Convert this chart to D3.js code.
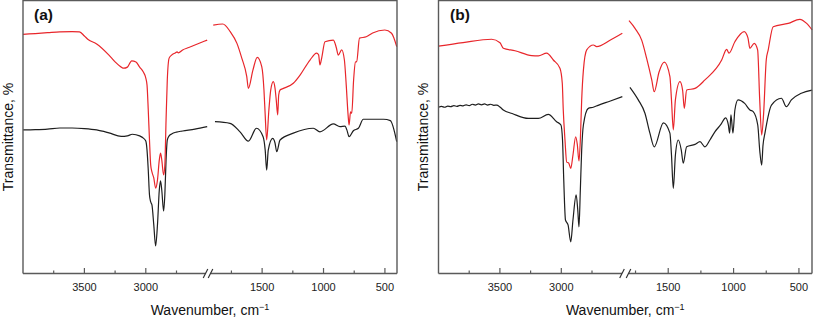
<!DOCTYPE html>
<html><head><meta charset="utf-8">
<script src="https://cdn.jsdelivr.net/npm/d3@7"></script>
<style>body{margin:0;background:#fff}svg{display:block}text{font-family:"Liberation Sans",Arial,sans-serif}</style>
</head><body>
<svg id="chart" width="814" height="319"></svg>
<script>
// ---------- DATA (wavenumber cm-1, transmittance a.u. %) ----------
const panelLabels = ["(a)", "(b)"];
const xTitle = "Wavenumber, cm";
const yTitle = "Transmittance, %";
const majorTicksHigh = [3500, 3000];
const minorTicksHigh = [3750, 3250, 2750];
const majorTicksLow = [1500, 1000, 500];
const minorTicksLow = [1750, 1250, 750];

// Panel (a)
const aRedHigh = [[4000,87.6],[3900,87.9],[3800,88.2],[3700,88.5],[3600,88.6],[3540,88.5],[3500,87.0],[3470,85.7],[3400,84.1],[3300,80.0],[3250,77.5],[3200,75.6],[3180,75.2],[3150,75.6],[3115,77.9],[3080,77.5],[3050,75.6],[3020,73.8],[3000,71.6],[2990,69.0],[2980,59.9],[2970,48.9],[2960,39.7],[2950,37.2],[2935,35.0],[2920,31.3],[2905,34.2],[2890,41.6],[2880,44.1],[2870,41.6],[2855,36.1],[2845,39.7],[2835,56.2],[2825,70.9],[2810,78.9],[2790,80.0],[2760,80.8],[2745,81.2],[2735,80.8],[2700,81.9],[2650,82.8],[2600,83.7],[2550,84.6],[2500,85.5]];
const aBlackHigh = [[4000,52.6],[3900,52.7],[3800,52.9],[3700,53.3],[3600,53.3],[3500,53.1],[3400,52.6],[3300,51.5],[3200,50.2],[3150,50.4],[3110,51.0],[3050,50.4],[3020,49.6],[3000,48.5],[2990,45.2],[2980,37.9],[2970,28.8],[2960,26.2],[2950,25.1],[2935,17.8],[2920,10.1],[2905,17.8],[2890,30.6],[2880,33.9],[2870,30.6],[2855,22.9],[2845,28.8],[2835,41.6],[2825,48.9],[2810,50.4],[2790,51.1],[2750,51.8],[2700,52.2],[2600,52.9],[2500,53.8]];
const aRedLow = [[1898,91.0],[1820,91.4],[1760,88.6],[1705,84.3],[1665,78.8],[1625,72.1],[1612,67.8],[1575,74.5],[1540,79.2],[1503,75.8],[1485,67.2],[1475,58.1],[1463,48.9],[1445,59.9],[1430,67.2],[1409,70.3],[1395,67.9],[1385,63.6],[1373,58.1],[1365,65.4],[1354,67.2],[1327,67.8],[1246,69.7],[1191,72.7],[1110,78.2],[1056,80.7],[1040,80.1],[1029,76.4],[1015,78.9],[988,84.9],[920,85.5],[895,82.6],[880,80.0],[852,81.9],[830,78.2],[815,69.0],[800,58.1],[792,54.4],[780,59.2],[770,58.7],[755,70.9],[740,77.5],[730,77.6],[707,86.2],[652,86.7],[600,88.1],[501,89.2],[446,88.0],[404,83.1]];
const aBlackLow = [[1884,55.6],[1762,55.0],[1680,51.9],[1612,48.5],[1546,53.2],[1492,50.1],[1475,45.2],[1463,37.9],[1450,45.2],[1414,49.5],[1395,47.8],[1381,44.6],[1354,48.9],[1246,51.4],[1083,53.2],[1029,51.9],[920,54.8],[866,53.8],[825,54.0],[810,52.6],[792,50.1],[757,52.3],[716,53.2],[676,56.5],[511,56.5],[456,56.0],[404,48.3]];

// Panel (b)
const bRedHigh = [[4000,83.3],[3800,84.6],[3567,85.8],[3499,84.5],[3472,82.5],[3377,81.6],[3241,79.8],[3187,79.7],[3119,80.7],[3065,78.2],[3011,75.2],[2992,69.7],[2984,59.9],[2970,48.9],[2956,40.8],[2940,40.5],[2923,38.5],[2905,43.4],[2883,50.1],[2870,47.4],[2856,41.2],[2845,48.9],[2834,63.6],[2820,74.5],[2793,81.9],[2739,83.7],[2712,83.1],[2600,85.5],[2503,88.0]];
const bBlackHigh = [[4000,60.9],[3975,61.2],[3950,60.9],[3925,61.3],[3900,61.1],[3875,61.5],[3850,61.2],[3825,61.6],[3800,61.4],[3775,61.8],[3750,61.5],[3725,62.0],[3700,61.7],[3675,62.1],[3650,61.8],[3625,62.1],[3600,61.7],[3575,62.0],[3550,61.6],[3525,61.7],[3500,61.0],[3472,59.9],[3400,58.6],[3268,56.8],[3187,56.8],[3106,58.3],[3038,55.6],[3003,54.4],[2990,48.9],[2980,34.2],[2966,19.6],[2945,17.8],[2923,11.6],[2905,19.6],[2879,28.8],[2866,23.3],[2856,17.1],[2845,30.6],[2834,45.2],[2820,54.4],[2780,60.5],[2740,60.9],[2700,61.6],[2600,63.2],[2503,64.8]];
const bRedLow = [[1800,92.6],[1754,89.8],[1703,85.5],[1665,78.8],[1626,70.9],[1607,66.6],[1570,73.8],[1530,77.4],[1487,72.1],[1475,63.6],[1461,52.6],[1445,63.6],[1410,70.3],[1390,67.2],[1377,60.5],[1359,67.2],[1295,67.8],[1219,70.9],[1091,78.2],[1053,82.1],[1035,80.7],[990,84.9],[919,88.6],[890,86.3],[875,82.5],[842,84.3],[816,81.9],[800,63.6],[785,50.7],[770,58.7],[750,78.2],[735,81.9],[697,90.4],[582,91.6],[493,93.1],[441,91.6],[399,89.2]];
const bBlackLow = [[1793,68.2],[1729,63.6],[1678,58.7],[1640,51.4],[1607,46.4],[1537,55.2],[1487,51.4],[1475,43.4],[1461,31.2],[1445,43.4],[1423,48.9],[1400,45.2],[1385,40.4],[1359,46.4],[1295,47.3],[1257,48.3],[1219,46.4],[1181,48.9],[1143,51.9],[1100,54.4],[1060,57.0],[1040,54.4],[1030,51.4],[1020,58.1],[1005,51.4],[990,59.9],[966,63.6],[915,62.3],[875,59.9],[850,59.3],[815,54.4],[800,45.2],[785,39.7],[775,46.9],[760,51.4],[710,61.7],[634,64.2],[596,61.1],[558,63.6],[482,66.0],[399,67.2]];

// ---------- LAYOUT ----------
const yTop = 0.5, yBottom = 273.5;
const panels = [
  {label: panelLabels[0], x0: 23, x1: 397, hiDomain: [4000, 2500], hiRange: [23, 207.2], loDomain: [1900, 400], loRange: [213, 397.2],
   breaks: [205.5, 210.5], red: [aRedHigh, aRedLow], black: [aBlackHigh, aBlackLow], labelX: 34, yTitleX: 7.5},
  {label: panelLabels[1], x0: 438.5, x1: 812, hiDomain: [4000, 2500], hiRange: [438.5, 622.7], loDomain: [1800, 400], loRange: [629, 812],
   breaks: [622, 628.5], red: [bRedHigh, bRedLow], black: [bBlackHigh, bBlackLow], labelX: 450, yTitleX: 423}
];
const colors = {red: "#e8262b", black: "#1e1e1e", axis: "#5a5a5a"};

const svg = d3.select("#chart");
const y = d3.scaleLinear().domain([0, 100]).range([yBottom, yTop]);

panels.forEach(p => {
  const g = svg.append("g");
  const xh = d3.scaleLinear().domain(p.hiDomain).range(p.hiRange);
  const xl = d3.scaleLinear().domain(p.loDomain).range(p.loRange);

  const drawSeg = (data, sx, col) => {
    const line = d3.line().x(d => sx(d[0])).y(d => y(d[1])).curve(d3.curveMonotoneX);
    g.append("path").datum(data).attr("d", line).attr("fill", "none")
      .attr("stroke", col).attr("stroke-width", 1.2).attr("stroke-linejoin", "round");
  };
  drawSeg(p.black[0], xh, colors.black);
  drawSeg(p.black[1], xl, colors.black);
  drawSeg(p.red[0], xh, colors.red);
  drawSeg(p.red[1], xl, colors.red);

  g.append("path").attr("d", `M${p.x0},${yBottom}V${yTop}H${p.x1}V${yBottom}`)
    .attr("fill", "none").attr("stroke", colors.axis).attr("stroke-width", 1.4);
  g.append("line").attr("x1", p.x0).attr("x2", p.breaks[0]).attr("y1", yBottom).attr("y2", yBottom)
    .attr("stroke", colors.axis).attr("stroke-width", 1.4);
  g.append("line").attr("x1", p.breaks[1]).attr("x2", p.x1).attr("y1", yBottom).attr("y2", yBottom)
    .attr("stroke", colors.axis).attr("stroke-width", 1.4);
  p.breaks.forEach(bx => {
    g.append("line").attr("x1", bx - 2.3).attr("x2", bx + 2.3).attr("y1", yBottom + 4.5).attr("y2", yBottom - 4.5)
      .attr("stroke", "#333").attr("stroke-width", 1.2);
  });

  const tick = (sx, vals, len) => vals.forEach(v => {
    g.append("line").attr("x1", sx(v)).attr("x2", sx(v)).attr("y1", yBottom).attr("y2", yBottom - len)
      .attr("stroke", colors.axis).attr("stroke-width", 1.2);
  });
  tick(xh, majorTicksHigh, 5.5); tick(xh, minorTicksHigh, 3);
  tick(xl, majorTicksLow, 5.5); tick(xl, minorTicksLow, 3);
  const tlab = (sx, vals) => vals.forEach(v => {
    g.append("text").attr("x", sx(v)).attr("y", 291).attr("text-anchor", "middle")
      .attr("font-size", 11).attr("fill", "#222").text(v);
  });
  tlab(xh, majorTicksHigh); tlab(xl, majorTicksLow);

  const xt = g.append("text").attr("x", (p.x0 + p.x1) / 2).attr("y", 314.5).attr("text-anchor", "middle")
    .attr("font-size", 14).attr("fill", "#111");
  xt.append("tspan").text(xTitle);
  xt.append("tspan").attr("font-size", 9).attr("dy", -5).text("\u22121");
  g.append("text").attr("transform", `translate(${p.yTitleX},${(yTop + yBottom) / 2}) rotate(-90)`)
    .attr("text-anchor", "middle").attr("dominant-baseline", "central")
    .attr("font-size", 14).attr("fill", "#111").text(yTitle);
  g.append("text").attr("x", p.labelX).attr("y", 20).attr("font-size", 15.5).attr("font-weight", "bold")
    .attr("fill", "#111").text(p.label);
});
</script>
</body></html>
